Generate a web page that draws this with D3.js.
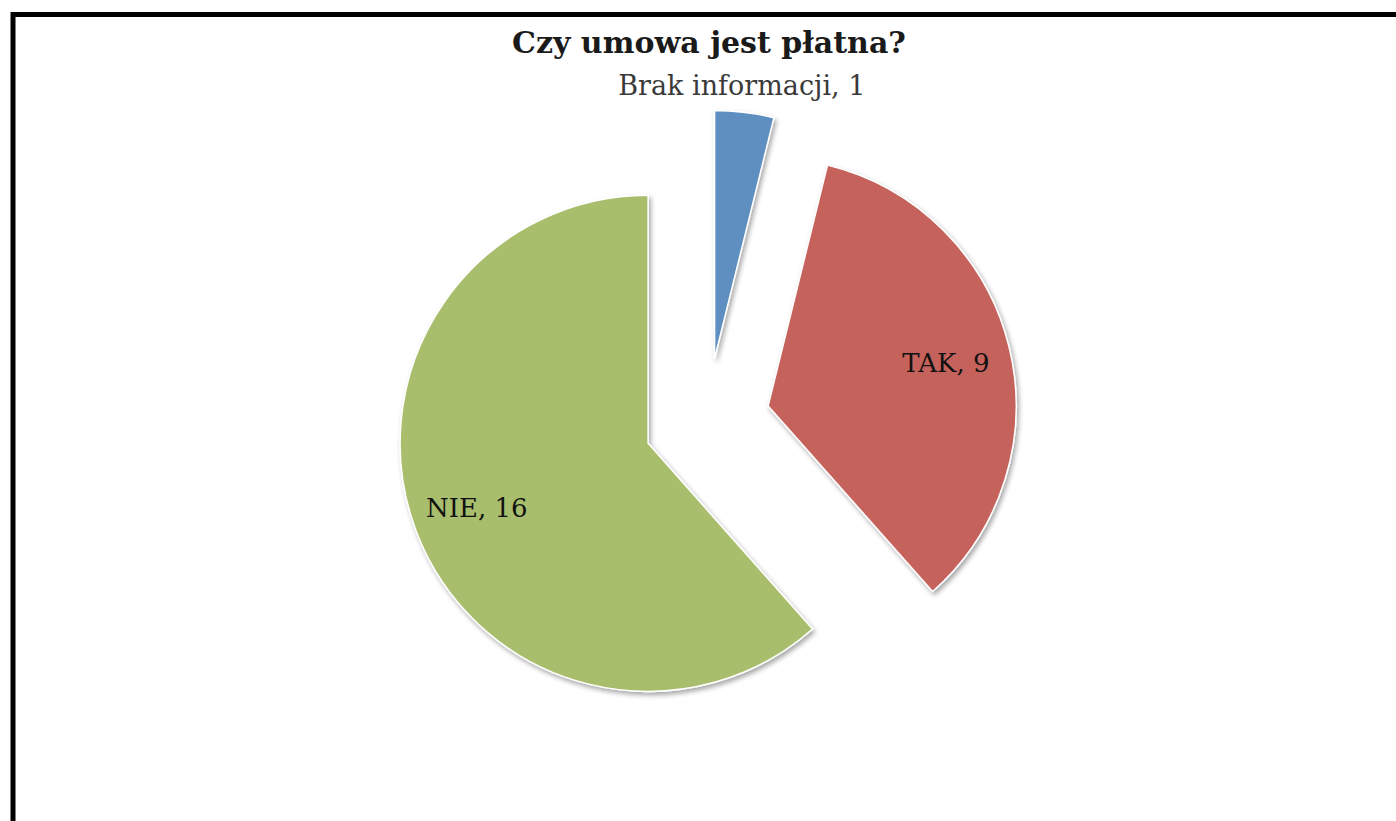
<!DOCTYPE html>
<html><head><meta charset="utf-8">
<script src="https://cdn.jsdelivr.net/npm/d3@7"></script>
<style>html,body{margin:0;padding:0;background:#fff;overflow:hidden}</style>
</head><body>
<svg id="c" width="1396" height="821"></svg>
<script>
const categories = ["Brak informacji", "TAK", "NIE"];
const values = [1, 9, 16];
const colors = ["#5E8FC1", "#C6625C", "#A9BE6C"];
const title = "Czy umowa jest płatna?";

const svg = d3.select("#c");
const W = 1396, H = 821;
const cx = 707, cy = 421, r = 248, explode = 63;

// frame
svg.append("rect").attr("x", 13).attr("y", 14.5).attr("width", W + 20).attr("height", H + 20)
  .attr("fill", "none").attr("stroke", "#000").attr("stroke-width", 5);

const defs = svg.append("defs");
const f = defs.append("filter").attr("id", "sh").attr("x", "-20%").attr("y", "-20%").attr("width", "140%").attr("height", "140%");
f.append("feGaussianBlur").attr("in", "SourceAlpha").attr("stdDeviation", 2.5).attr("result", "b");
f.append("feOffset").attr("in", "b").attr("dx", 1.5).attr("dy", 2.5).attr("result", "o");
f.append("feComponentTransfer").attr("in", "o").attr("result", "o2")
  .append("feFuncA").attr("type", "linear").attr("slope", 0.35);
const m = f.append("feMerge");
m.append("feMergeNode").attr("in", "o2");
m.append("feMergeNode").attr("in", "SourceGraphic");

const pie = d3.pie().sort(null).value(d => d)(values);
const arc = d3.arc().innerRadius(0).outerRadius(r);

const g = svg.append("g").attr("transform", `translate(${cx},${cy})`);
const off = d => { const a = (d.startAngle + d.endAngle) / 2; return [explode * Math.sin(a), -explode * Math.cos(a)]; };

g.selectAll("path").data(pie).join("path")
  .attr("d", arc)
  .attr("transform", d => `translate(${off(d)})`)
  .attr("fill", (d, i) => colors[i])
  .attr("stroke", "#fff").attr("stroke-width", 1.5)
  .attr("filter", "url(#sh)");

const labR = [1.11 * r, 0.73 * r, 0.73 * r];
const labDx = [-6, 2, -2];
g.selectAll("text.lab").data(pie).join("text").attr("class", "lab")
  .attr("x", (d, i) => { const a = (d.startAngle + d.endAngle) / 2; return off(d)[0] + labR[i] * Math.sin(a) + labDx[i]; })
  .attr("y", (d, i) => { const a = (d.startAngle + d.endAngle) / 2; return off(d)[1] - labR[i] * Math.cos(a); })
  .attr("text-anchor", "middle").attr("dominant-baseline", "central")
  .attr("font-family", "'DejaVu Serif', serif").attr("font-size", (d, i) => i === 0 ? 27 : 26)
  .attr("fill", (d, i) => i === 0 ? "#3a3a3a" : "#111")
  .text((d, i) => `${categories[i]}, ${values[i]}`);

svg.append("text").attr("x", 709).attr("y", 53).attr("text-anchor", "middle")
  .attr("font-family", "'DejaVu Serif', serif").attr("font-weight", "bold").attr("font-size", 30)
  .attr("fill", "#1a1a1a").text(title);
</script>
</body></html>
